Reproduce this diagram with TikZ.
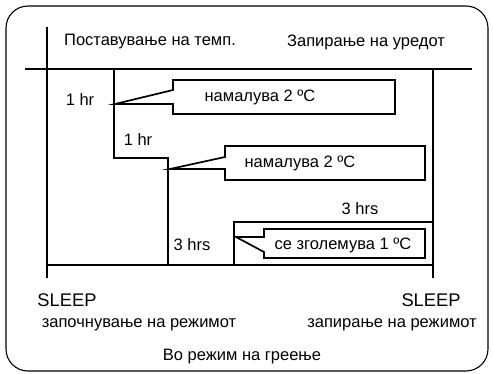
\documentclass[tikz,border=0pt]{standalone}
\usepackage{fontspec}
\setmainfont{Liberation Sans}
\begin{document}
\begin{tikzpicture}[x=1pt,y=-1pt,
	txt/.style={font=\fontsize{16.5}{18}\selectfont, inner sep=0pt},
	big/.style={font=\fontsize{18.3}{20}\selectfont, inner sep=0pt},
	thin/.style={line width=1.1pt},
	bubble/.style={line width=1.7pt, line join=miter}]
	\useasboundingbox (0,0) rectangle (493,374);
	\draw[thin, rounded corners=22] (6,6) rectangle (488,371);
	% time axis and set point
	\coordinate (top) at (47,27);
	\coordinate (start) at (47,278);
	\coordinate (stop) at (433,278);
	\coordinate (hl) at (25,69);
	\coordinate (hr) at (472,69);
	\draw[thin] (top) -- (start);
	\draw[thin] (hl) -- (hr);
	\draw[thin] (433,69) -- (stop);
	\draw[thin] (47,265) -- (433,265);
	% steps
	\coordinate (s1) at (114,69);
	\coordinate (s2) at (114,158);
	\coordinate (s3) at (168,158);
	\coordinate (s4) at (168,265);
	\draw[thin] (s1) -- (s2) -- (s3) -- (s4);
	\coordinate (u1) at (234,265);
	\coordinate (u2) at (234,222);
	\draw[thin] (u1) -- (u2) -- (433,222);
	% callouts
	\draw[bubble] (173,80) -- (395,80) -- (395,114) -- (173,114) -- (173,104) -- (115,104) -- (173,90) -- cycle;
	\draw[bubble] (225,146) -- (425,146) -- (425,180) -- (225,180) -- (225,169) -- (170,169) -- (225,157) -- cycle;
	\draw[bubble] (264,229) -- (425,229) -- (425,258) -- (264,258) -- (264,252) -- (236,237) -- (264,237) -- cycle;
	\node[txt] (dec1) at (260,97) {намалува 2 ºC};
	\node[txt] (dec2) at (300,163) {намалува 2 ºC};
	\node[txt] (inc) at (343,245) {се зголемува 1 ºC};
	% labels
	\node[txt] (set) at (150,42) {Поставување на темп.};
	\node[txt] (off) at (366,42) {Запирање на уредот};
	\node[txt] (t1) at (80,100) {1 hr};
	\node[txt] (t2) at (138,140) {1 hr};
	\node[txt] (t3) at (192,245) {3 hrs};
	\node[txt] (t4) at (360,209) {3 hrs};
	\node[big] (sl) at (67,300) {SLEEP};
	\node[big] (sr) at (431,300) {SLEEP};
	\node[txt] (begin) at (139,325) {започнување на режимот};
	\node[txt] (end) at (392,325) {запирање на режимот};
	\node[txt] (mode) at (242,357) {Во режим на греење};
\end{tikzpicture}
\end{document}
